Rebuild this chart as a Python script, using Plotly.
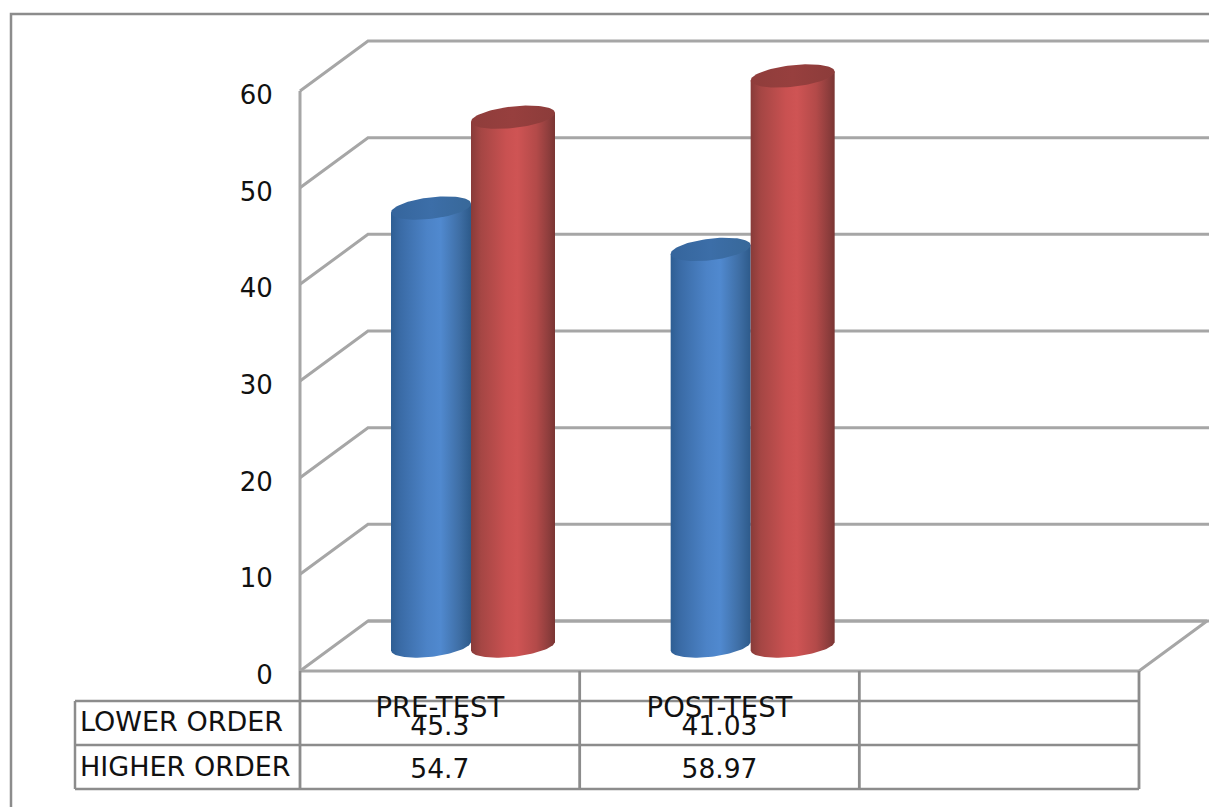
import numpy as np
import plotly.graph_objects as go

# Chart data
categories = ["PRE-TEST", "POST-TEST", ""]
lower_order = [45.3, 41.03]
higher_order = [54.7, 58.97]
y_ticks = [0, 10, 20, 30, 40, 50, 60]
series_names = ["LOWER ORDER", "HIGHER ORDER"]

WIDTH, HEIGHT = 1209, 807
LEFT, RIGHT, TOP, BOTTOM = 300, 1139, 91, 671
PX_X = (RIGHT - LEFT) / 3.0      # pixels per category
PX_Y = (BOTTOM - TOP) / 60.0     # pixels per value unit


def ux(px):
    return px / PX_X


def uy(px):
    return px / PX_Y


def to_x(px):
    return (px - LEFT) / PX_X


def to_y(px):
    return (BOTTOM - px) / PX_Y


DEPTH_X, DEPTH_Y = ux(68), uy(50)
EDGE = to_x(WIDTH + 5)
GRID = "#a6a6a6"
TABLE = "#8c8c8c"
TEXT = "#111111"
FONT = "DejaVu Sans"

BLUE_BODY = [[0, "#2e5e93"], [0.12, "#3a6ba6"], [0.45, "#4c83c7"], [0.62, "#5089cf"],
             [0.85, "#3f6fa6"], [1, "#2d5a8a"]]
RED_BODY = [[0, "#883b39"], [0.12, "#a54644"], [0.42, "#c95151"], [0.55, "#cf5454"],
            [0.78, "#b34a49"], [0.92, "#8f3e3d"], [1, "#7a3533"]]
BLUE_CAP = [[0, "#35659c"], [0.5, "#3c6ea8"], [1, "#386899"]]
RED_CAP = [[0, "#8f3d3b"], [0.5, "#973f3e"], [1, "#8c3c3a"]]

fig = go.Figure()


def add_line(xs, ys, color=GRID, width=3):
    fig.add_trace(go.Scatter(x=xs, y=ys, mode="lines", hoverinfo="skip",
                             showlegend=False, line=dict(color=color, width=width)))


def add_text(xs, ys, texts, position="middle center", size=26.5):
    fig.add_trace(go.Scatter(x=xs, y=ys, text=texts, mode="text",
                             textposition=position, hoverinfo="skip", showlegend=False,
                             textfont=dict(family=FONT, size=size, color=TEXT)))


# Outer chart frame
add_line([to_x(11), to_x(11), EDGE], [to_y(HEIGHT + 5), to_y(14), to_y(14)], TABLE, 2.5)

# Side wall, back wall and floor of the 3D box
add_line([0, 0], [0, 60])
for v in y_ticks:
    add_line([0, DEPTH_X, EDGE], [v, v + DEPTH_Y, v + DEPTH_Y])
add_line([0, 3, 3 + DEPTH_X, DEPTH_X], [0, 0, DEPTH_Y, DEPTH_Y])

# Data table below the floor
rows_px = [701, 745, 789]
for py in rows_px:
    add_line([to_x(75), 3], [to_y(py)] * 2, TABLE, 2.5)
add_line([to_x(75), to_x(75)], [to_y(701), to_y(789)], TABLE, 2.5)
for cx in [0, 1, 2, 3]:
    add_line([cx, cx], [0, to_y(789)], TABLE, 2.8)

# Cylinders
RADIUS = {0: ux(40), 1: ux(42)}
CENTER = {0: to_x(431), 1: to_x(513)}
CAP_B, CAP_S = uy(10.8), uy(4.4)
BASE = DEPTH_Y / 2


def cylinder(cat, side, value, body, cap):
    c = CENTER[side] + cat
    r = RADIUS[side]
    t = np.linspace(np.pi, 2 * np.pi, 60)
    arc_x = c + r * np.cos(t)
    arc_y = BASE + CAP_B * np.sin(t) + CAP_S * np.cos(t)
    top = BASE + value
    xs = np.concatenate([arc_x, [c + r, c - r, c - r]])
    ys = np.concatenate([arc_y, [top + CAP_S, top - CAP_S, BASE - CAP_S]])
    fig.add_trace(go.Scatter(x=xs, y=ys, mode="lines", fill="toself",
                             line=dict(width=0), hoverinfo="skip", showlegend=False,
                             fillgradient=dict(type="horizontal", colorscale=body)))
    t = np.linspace(0, 2 * np.pi, 90)
    fig.add_trace(go.Scatter(x=c + r * np.cos(t),
                             y=top + CAP_B * np.sin(t) + CAP_S * np.cos(t),
                             mode="lines", fill="toself",
                             line=dict(width=0), hoverinfo="skip", showlegend=False,
                             fillgradient=dict(type="horizontal", colorscale=cap)))


for i in range(len(lower_order)):
    cylinder(i, 0, lower_order[i], BLUE_BODY, BLUE_CAP)
    cylinder(i, 1, higher_order[i], RED_BODY, RED_CAP)

# Table text
cell_x = [i + 0.5 for i in range(len(lower_order))]
add_text(cell_x, [to_y(728)] * 2, [str(v) for v in lower_order])
add_text(cell_x, [to_y(771)] * 2, [str(v) for v in higher_order])
add_text([to_x(80)], [to_y(724)], [series_names[0]], "middle right", 27)
add_text([to_x(80)], [to_y(769)], [series_names[1]], "middle right", 27)

fig.update_layout(
    width=WIDTH, height=HEIGHT, autosize=False,
    margin=dict(l=0, r=0, t=0, b=0, pad=0),
    paper_bgcolor="white", plot_bgcolor="white", showlegend=False,
    xaxis=dict(domain=[0, 1], range=[to_x(0), to_x(WIDTH)], anchor="free",
               position=(HEIGHT - BOTTOM) / HEIGHT,
               tickmode="array", tickvals=[0.5, 1.5, 2.5], ticktext=categories,
               showgrid=False, zeroline=False, showline=False,
               ticks="outside", ticklen=12, tickcolor="rgba(0,0,0,0)",
               tickfont=dict(family=FONT, size=27.5, color=TEXT)),
    yaxis=dict(domain=[0, 1], range=[to_y(HEIGHT), to_y(0)], anchor="free",
               position=LEFT / WIDTH, ticklabelshift=4,
               tickmode="array", tickvals=y_ticks,
               showgrid=False, zeroline=False, showline=False,
               ticks="outside", ticklen=22, tickcolor="rgba(0,0,0,0)",
               tickfont=dict(family=FONT, size=26, color=TEXT)),
)

fig.write_html("out.html", config={"displayModeBar": False})
